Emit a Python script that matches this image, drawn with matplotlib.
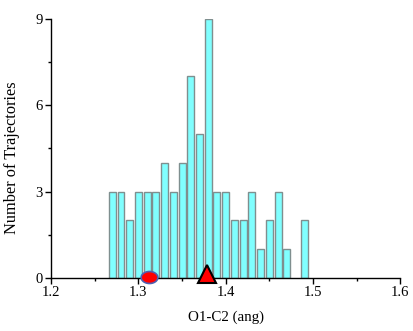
import numpy as np
import matplotlib
matplotlib.use("Agg")
import matplotlib.pyplot as plt
from matplotlib.path import Path
from matplotlib.ticker import MultipleLocator

bin_centers = [1.27, 1.28, 1.29, 1.30, 1.31, 1.32, 1.33, 1.34, 1.35, 1.36, 1.37,
               1.38, 1.39, 1.40, 1.41, 1.42, 1.43, 1.44, 1.45, 1.46, 1.47, 1.48, 1.49]
counts = [3, 3, 2, 3, 3, 3, 4, 3, 4, 7, 5, 9, 3, 3, 2, 2, 3, 1, 2, 3, 1, 0, 2]
circle_x, circle_y = [1.312], [0.05]
triangle_x, triangle_y = [1.378], [0.15]

plt.rcParams['font.family'] = ['Liberation Serif', 'DejaVu Serif']

fig = plt.figure(figsize=(4.13, 3.31), dpi=100)
ax = fig.add_axes([0.124, 0.160, 0.845, 0.783])

xs = [b for b, c in zip(bin_centers, counts) if c > 0]
hs = [c for c in counts if c > 0]
ax.bar(xs, hs, width=0.008, color='#80FFFF', edgecolor='#7f8f8f', linewidth=1.0, zorder=2)

t = np.linspace(0, 2 * np.pi, 60)
ell = Path(np.column_stack([np.cos(t), 0.72 * np.sin(t)]), closed=True)
ax.plot(circle_x, circle_y, linestyle='none', marker=ell, markersize=12,
        markerfacecolor='#ff0000', markeredgecolor='#5060b0', markeredgewidth=1.2,
        clip_on=False, zorder=4)
ax.plot(triangle_x, triangle_y, linestyle='none', marker='^', markersize=13,
        markerfacecolor='#ff0000', markeredgecolor='black', markeredgewidth=1.5,
        clip_on=False, zorder=4)

ax.set_xlim(1.2, 1.6)
ax.set_ylim(0, 9)
ax.xaxis.set_major_locator(MultipleLocator(0.1))
ax.xaxis.set_minor_locator(MultipleLocator(0.05))
ax.yaxis.set_major_locator(MultipleLocator(3))
ax.yaxis.set_minor_locator(MultipleLocator(1.5))
ax.set_xticks([1.2, 1.3, 1.4, 1.5, 1.6])
ax.set_xticklabels(['1.2', '1.3', '1.4', '1.5', '1.6'])
for s in ['top', 'right']:
    ax.spines[s].set_visible(False)
for s in ['left', 'bottom']:
    ax.spines[s].set_linewidth(1.0)
ax.tick_params(which='major', direction='out', length=4, width=1, labelsize=10.5, pad=2)
ax.tick_params(which='minor', direction='out', length=2.5, width=1)
ax.set_xlabel('O1-C2 (ang)', fontsize=10.8, labelpad=8)
ax.set_ylabel('Number of Trajectories', fontsize=11.8)
ax.yaxis.set_label_coords(-0.09, 0.463)

fig.savefig('out.png', dpi=100)
